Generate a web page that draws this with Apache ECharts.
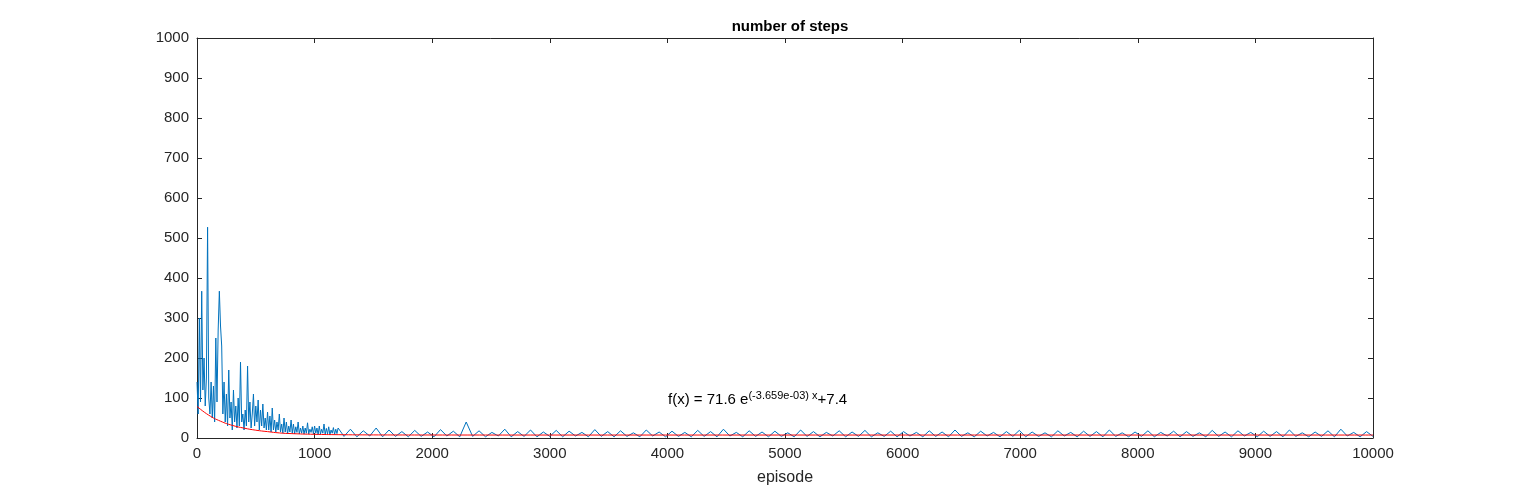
<!DOCTYPE html>
<html>
<head>
<meta charset="utf-8">
<script src="https://cdn.jsdelivr.net/npm/echarts@6/dist/echarts.min.js"></script>
<style>html,body{margin:0;background:#fff}#main{width:1518px;height:493px}</style>
</head>
<body>
<div id="main"></div>
<script>
// steps per episode, episodes 0..1200 every 10
const earlySteps = [
  140,60,300,90,367,120,200,80,150,527,100,
  60,140,50,130,40,250,90,270,367,280,
  230,60,140,40,110,30,170,50,90,20,
  120,40,80,25,100,30,190,40,60,20,
  70,30,180,40,90,25,60,110,30,80,
  40,95,20,70,30,85,25,50,20,65,
  20,55,15,75,20,45,15,40,20,60,
  15,35,12,50,15,40,10,30,15,45,
  12,35,10,28,14,40,10,25,12,30,
  10,25,12,38,10,22,14,28,10,30,
  12,25,8,30,10,22,12,35,9,24,
  10,28,8,20,12,26,9,22,11,25
];
// steps per episode, sampled evenly over episodes 1250..10000
const lateSteps = [
  4,22,3,18,5,25,3,20,4,16,3,
  19,4,15,3,21,5,17,3,40,4,
  18,3,14,5,22,3,16,4,20,3,
  15,4,19,3,17,5,14,3,21,4,
  16,3,18,4,13,3,20,5,15,3,
  17,4,14,3,19,4,16,3,22,5,
  14,3,18,4,15,3,17,4,13,3,
  20,4,16,3,14,5,18,3,15,4,
  19,3,13,4,17,3,16,5,14,3,
  18,4,15,3,20,4,13,3,17,5,
  14,3,16,4,19,3,15,4,13,3,
  18,5,14,3,17,4,16,3,20,4,
  13,3,15,4,18,3,14,5,17,3,
  16,4,13,3,19,4,15,3,18,5,
  14,3,17,4,16,3,20,4,13,3,
  15,4,18,3,22,5,14,3,16,4
];
// fitted curve f(x)
const fitX = [0,100,200,300,400,500,600,700,800,1000,1200,1500,2000,3000,10000];
const fitY = [79,57,42,31.6,24.7,19.5,15.9,12.7,11,9.2,8.3,7.7,7.5,7.4,7.4];

const lateStep = 8750 / (lateSteps.length - 1);
const steps = earlySteps.map((v, i) => [i * 10, v])
  .concat(lateSteps.map((v, i) => [1250 + i * lateStep, v]));
const fit = fitX.map((x, i) => [x, fitY[i]]);

const chart = echarts.init(document.getElementById('main'));
const axisCommon = {
  axisLine: { show: true, onZero: false, lineStyle: { color: '#262626' } },
  axisTick: { inside: true, length: 5, lineStyle: { color: '#262626' } },
  axisLabel: { color: '#262626', fontSize: 15, fontFamily: 'Liberation Sans', formatter: v => String(v) },
  splitLine: { show: false }
};
chart.setOption({
  animation: false,
  title: { text: 'number of steps', left: 785, textAlign: 'center', top: 14,
    textStyle: { fontSize: 15, fontWeight: 'bold', color: '#000', fontFamily: 'Liberation Sans' } },
  grid: { left: 197, right: 145, top: 38, bottom: 55 },
  xAxis: [
    Object.assign({ type: 'value', min: 0, max: 10000, interval: 1000,
      name: 'episode', nameLocation: 'middle', nameGap: 32,
      nameTextStyle: { fontSize: 16, color: '#262626', fontFamily: 'Liberation Sans' } }, axisCommon),
    Object.assign({}, axisCommon, { type: 'value', min: 0, max: 10000, interval: 1000, position: 'top', axisLabel: { show: false } })
  ],
  yAxis: [
    Object.assign({ type: 'value', min: 0, max: 1000, interval: 100 }, axisCommon),
    Object.assign({}, axisCommon, { type: 'value', min: 0, max: 1000, interval: 100, position: 'right', axisLabel: { show: false } })
  ],
  series: [
    { type: 'line', data: steps, showSymbol: false, lineStyle: { color: '#0072BD', width: 1 } },
    { type: 'line', data: fit, smooth: true, showSymbol: false, lineStyle: { color: '#FF0000', width: 1 } }
  ],
  graphic: [{
    type: 'text', left: 668, top: 390,
    style: { rich: { a: { fontSize: 15, fontFamily: 'Liberation Sans', fill: '#000' }, s: { fontSize: 11, fontFamily: 'Liberation Sans', fill: '#000', verticalAlign: 'top', padding: [0, 0, 8, 0] } },
      text: '{a|f(x) = 71.6 e}{s|(-3.659e-03) x}{a|+7.4}' }
  }]
});
</script>
</body>
</html>
